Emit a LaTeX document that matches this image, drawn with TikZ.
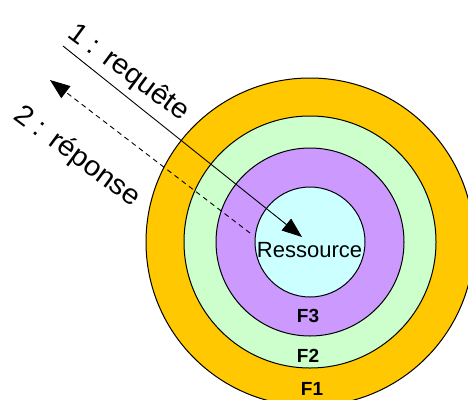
\documentclass[tikz,border=0pt]{standalone}
\usepackage{fontspec}
\setmainfont{Liberation Sans}
\usetikzlibrary{arrows.meta}
\definecolor{ringone}{RGB}{255,200,0}
\definecolor{ringtwo}{RGB}{204,255,204}
\definecolor{ringthree}{RGB}{204,153,255}
\definecolor{core}{RGB}{204,255,255}
\tikzset{
  ring/.style={circle, draw=black, line width=1pt, inner sep=0pt},
  lbl/.style={font=\fontsize{28}{28}\selectfont, inner sep=0pt, anchor=base west, rotate=-36.5},
  flbl/.style={font=\bfseries\fontsize{19}{19}\selectfont, inner sep=0pt, anchor=base},
  reqarrow/.style={line width=0.9pt, -{Triangle[length=20pt,width=15pt]}},
  reparrow/.style={line width=0.9pt, dash pattern=on 5pt off 4pt, -{Triangle[length=20pt,width=15pt]}}
}
\begin{document}
\begin{tikzpicture}[x=1pt,y=-1pt]
\useasboundingbox (0,0) rectangle (468,399);
\clip (0,0) rectangle (468,399);
\node[ring, fill=ringone, minimum size=328pt] (f1) at (310,242) {};
\node[ring, fill=ringtwo, minimum size=252pt] (f2) at (310,242) {};
\node[ring, fill=ringthree, minimum size=188pt] (f3) at (310,242) {};
\node[ring, fill=core, minimum size=110pt] (res) at (310,242) {};
\node[font=\fontsize{22}{22}\selectfont, inner sep=0pt, anchor=base] (restxt) at (309.5,257) {Ressource};
\node[flbl] (lf3) at (308,322) {F3};
\node[flbl] (lf2) at (308,362) {F2};
\node[flbl] (lf1) at (312,395) {F1};
\coordinate (reqstart) at (63,46);
\coordinate (reqend) at (302,237);
\coordinate (repstart) at (250,233);
\coordinate (repend) at (50,80);
\draw[reqarrow] (reqstart) -- (reqend);
\draw[reparrow] (repstart) -- (repend);
\node[lbl] (lreq) at (66,36) {\scalebox{1.05}[1]{1 : requête}};
\node[lbl] (lrep) at (12,118) {\scalebox{1.05}[1]{2 : réponse}};
\end{tikzpicture}
\end{document}
